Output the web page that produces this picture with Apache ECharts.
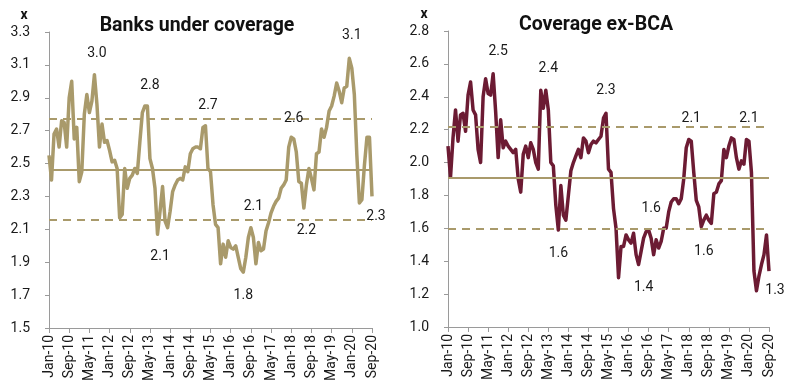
<!DOCTYPE html>
<html><head><meta charset="utf-8">
<script src="https://cdn.jsdelivr.net/npm/echarts@6/dist/echarts.min.js"></script>
<style>html,body{margin:0;padding:0;background:#fff}#c{width:800px;height:386px}</style>
</head><body><div id="c"></div>
<script>
const monthNames = ['Jan','Feb','Mar','Apr','May','Jun','Jul','Aug','Sep','Oct','Nov','Dec'];
const categories = [];
for (let y = 10; y <= 20; y++) {
  for (let m = 0; m < 12; m++) {
    if (y === 20 && m > 8) break;
    categories.push(monthNames[m] + '-' + y);
  }
}

const banksValues = [
  2.55,2.40,2.68,2.71,2.60,2.76,2.75,2.60,2.90,3.00,
  2.65,2.72,2.39,2.45,2.80,2.92,2.81,2.88,3.04,2.86,
  2.60,2.74,2.63,2.64,2.58,2.51,2.52,2.47,2.17,2.19,
  2.47,2.35,2.41,2.43,2.47,2.44,2.63,2.81,2.85,2.85,
  2.53,2.47,2.35,2.07,2.21,2.36,2.15,2.11,2.21,2.33,
  2.37,2.40,2.41,2.40,2.48,2.45,2.56,2.59,2.60,2.60,
  2.59,2.72,2.73,2.47,2.45,2.25,2.13,2.11,1.89,2.01,
  1.93,2.03,1.99,1.98,2.00,1.93,1.86,1.84,1.93,2.05,
  2.11,2.05,1.89,2.02,1.97,1.98,2.09,2.14,2.20,2.24,
  2.27,2.29,2.35,2.37,2.40,2.60,2.66,2.65,2.57,2.39,
  2.38,2.23,2.37,2.47,2.41,2.34,2.56,2.57,2.71,2.66,
  2.72,2.82,2.85,2.91,2.99,2.94,2.87,2.96,2.97,3.14,
  3.08,2.92,2.55,2.26,2.28,2.49,2.66,2.66,2.30
];
const exBcaValues = [
  2.10,1.91,2.15,2.32,2.13,2.29,2.30,2.19,2.41,2.49,
  2.32,2.29,2.08,2.00,2.40,2.51,2.42,2.41,2.54,2.31,
  2.03,2.26,2.09,2.13,2.10,2.08,2.06,2.08,1.90,1.82,
  2.05,2.10,2.03,2.12,2.08,2.00,1.96,2.44,2.33,2.44,
  2.32,2.00,1.98,1.74,1.59,1.86,1.68,1.65,1.80,1.95,
  2.00,2.04,2.08,2.03,2.15,2.13,2.06,2.11,2.13,2.12,
  2.14,2.16,2.27,2.30,1.96,1.94,1.72,1.60,1.30,1.49,
  1.49,1.56,1.53,1.51,1.57,1.44,1.38,1.46,1.54,1.58,
  1.59,1.54,1.44,1.53,1.48,1.52,1.60,1.60,1.70,1.76,
  1.78,1.78,1.75,1.78,1.90,2.09,2.14,2.13,1.94,1.77,
  1.73,1.61,1.65,1.68,1.65,1.63,1.81,1.82,1.87,1.89,
  2.08,2.03,2.10,2.15,2.14,2.03,1.96,2.01,1.99,2.14,
  2.13,1.94,1.34,1.22,1.31,1.38,1.44,1.56,1.34
];

// mean and +/- 1 standard deviation
const banksBands = {mean: 2.46, upper: 2.77, lower: 2.16};
const exBcaBands = {mean: 1.91, upper: 2.22, lower: 1.60};

// annotations: text, category index, value
const banksNoteText = ['3.0','2.8','2.7','2.1','1.8','2.1','2.6','2.2','3.1','2.3'];
const banksNoteIdx  = [19, 40, 63, 44, 77, 81, 97, 102, 120, 128];
const banksNoteVal  = [3.17, 2.976, 2.855, 1.933, 1.696, 2.237, 2.777, 2.095, 3.28, 2.176];
const exNoteText = ['2.5','2.4','2.3','1.6','1.4','1.6','2.1','1.6','2.1','1.3'];
const exNoteIdx  = [20, 40, 63, 44, 78, 81, 97, 102, 120, 128];
const exNoteVal  = [2.674, 2.573, 2.437, 1.447, 1.24, 1.721, 2.269, 1.457, 2.269, 1.224];

const yTicksLeft = {min: 1.5, max: 3.3, interval: 0.2};
const yTicksRight = {min: 1.0, max: 2.8, interval: 0.2};

const GOLD = '#A99A6B';
const MAROON = '#6C1B33';
const FONT = 'Roboto, "Noto Sans", sans-serif';

function notes(text, idx, val, lastOffset) {
  return text.map((t, i) => ({
    coord: [idx[i], val[i]],
    value: t,
    label: i === text.length - 1 ? {offset: [lastOffset, 0]} : {}
  }));
}

function bandLines(b) {
  return {
    silent: true,
    symbol: 'none',
    label: {show: false},
    emphasis: {disabled: true},
    data: [
      {yAxis: b.mean, lineStyle: {type: 'solid', width: 2, color: GOLD}},
      {yAxis: b.upper, lineStyle: {type: [8, 6], width: 2, color: GOLD}},
      {yAxis: b.lower, lineStyle: {type: [8, 6], width: 2, color: GOLD}}
    ]
  };
}

function xAxisDef(gi) {
  return {
    type: 'category', gridIndex: gi, data: categories, boundaryGap: false,
    axisLine: {lineStyle: {color: '#9a9a9a', width: 1}},
    axisTick: {show: true, interval: 7, length: 5, lineStyle: {color: '#9a9a9a'}},
    axisLabel: {interval: 7, rotate: 90, fontSize: 14, color: '#1a1a1a', fontFamily: FONT, margin: 7},
    splitLine: {show: false}
  };
}
function yAxisDef(gi, t) {
  return {
    type: 'value', gridIndex: gi, min: t.min, max: t.max, interval: t.interval,
    axisLine: {show: true, lineStyle: {color: '#9a9a9a', width: 1}},
    axisTick: {show: true, length: 4, lineStyle: {color: '#9a9a9a'}},
    axisLabel: {fontSize: 14, color: '#1a1a1a', fontFamily: FONT, margin: 19,
      formatter: v => v.toFixed(1)},
    splitLine: {show: false}
  };
}
const noteLabel = {show: true, position: 'inside', formatter: '{c}', color: '#1a1a1a',
  fontSize: 14, fontFamily: FONT};

const chart = echarts.init(document.getElementById('c'), null, {renderer: 'canvas'});
chart.setOption({
  animation: false,
  backgroundColor: '#fff',
  grid: [
    {left: 49, top: 32, width: 323, height: 296},
    {left: 448, top: 31, width: 321, height: 296}
  ],
  xAxis: [xAxisDef(0), xAxisDef(1)],
  yAxis: [yAxisDef(0, yTicksLeft), yAxisDef(1, yTicksRight)],
  graphic: [
    {type: 'text', x: 197, y: 26, style: {text: 'Banks under coverage', fontSize: 19.5, fontWeight: 'bold', fontFamily: FONT, fill: '#111', align: 'center', verticalAlign: 'middle'}},
    {type: 'text', x: 596, y: 25, style: {text: 'Coverage ex-BCA', fontSize: 19.5, fontWeight: 'bold', fontFamily: FONT, fill: '#111', align: 'center', verticalAlign: 'middle'}},
    {type: 'text', x: 24, y: 15, style: {text: 'x', fontSize: 14, fontWeight: 'bold', fontFamily: FONT, fill: '#111', align: 'center', verticalAlign: 'middle'}},
    {type: 'text', x: 424, y: 14, style: {text: 'x', fontSize: 14, fontWeight: 'bold', fontFamily: FONT, fill: '#111', align: 'center', verticalAlign: 'middle'}}
  ],
  series: [
    {type: 'line', xAxisIndex: 0, yAxisIndex: 0, data: [], markLine: bandLines(banksBands)},
    {type: 'line', xAxisIndex: 1, yAxisIndex: 1, data: [], markLine: bandLines(exBcaBands)},
    {
      type: 'line', xAxisIndex: 0, yAxisIndex: 0, data: banksValues,
      showSymbol: false, symbol: 'none', smooth: false,
      lineStyle: {color: GOLD, width: 3.5, join: 'round'},
      markPoint: {symbol: 'circle', symbolSize: 1, itemStyle: {color: 'rgba(0,0,0,0)'},
        label: noteLabel, data: notes(banksNoteText, banksNoteIdx, banksNoteVal, 4)}
    },
    {
      type: 'line', xAxisIndex: 1, yAxisIndex: 1, data: exBcaValues,
      showSymbol: false, symbol: 'none', smooth: false,
      lineStyle: {color: MAROON, width: 3.5, join: 'round'},
      markPoint: {symbol: 'circle', symbolSize: 1, itemStyle: {color: 'rgba(0,0,0,0)'},
        label: noteLabel, data: notes(exNoteText, exNoteIdx, exNoteVal, 6)}
    }
  ]
});
</script></body></html>
